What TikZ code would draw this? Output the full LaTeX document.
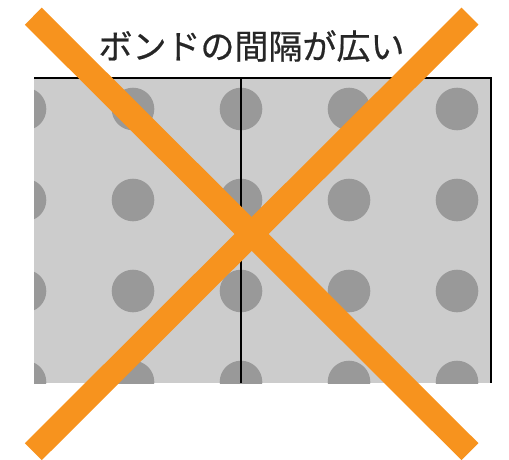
\documentclass[tikz,border=0pt]{standalone}
\usepackage{fontspec}
\newfontfamily\cjk[FakeBold=0.6]{Noto Sans CJK JP}
\definecolor{xorange}{HTML}{F7931E}
\definecolor{tilegray}{HTML}{CCCCCC}
\definecolor{dotgray}{HTML}{999999}
\tikzset{
  border/.style={draw=black, line width=1.8pt},
  crossbar/.style={draw=xorange, line width=24pt, line cap=butt},
  dot/.style={fill=dotgray},
  titletext/.style={font=\cjk\fontsize{34}{40}\selectfont, text=black!85, inner sep=0pt, anchor=base}
}
\begin{document}
\begin{tikzpicture}[x=1pt,y=-1pt]
\useasboundingbox (0,0) rectangle (509,460);
\begin{scope}
  \clip (34,78) rectangle (491,383);
  \fill[tilegray] (34,78) rectangle (491,383);
  \foreach \cx in {25,133,241,349,457} {
    \foreach \cy in {109,200,291,382} {
      \fill[dot] (\cx,\cy) circle[radius=21.3pt];
    }
  }
\end{scope}
\draw[border] (34,78) -- (491,78) -- (491,383);
\draw[border] (241,78) -- (241,383);
\node[titletext] (title) at (251.5,59) {ボンドの間隔が広い};
\coordinate (tl) at (33.3,16.2);
\coordinate (br) at (470,451.7);
\coordinate (tr) at (470,16.2);
\coordinate (bl) at (33.3,451.7);
\draw[crossbar] (tl) -- (br);
\draw[crossbar] (tr) -- (bl);
\end{tikzpicture}
\end{document}
